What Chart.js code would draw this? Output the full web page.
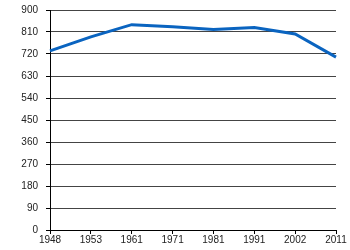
<!DOCTYPE html>
<html>
<head>
<meta charset="utf-8">
<script src="https://cdn.jsdelivr.net/npm/chart.js@4"></script>
<style>
  html, body { margin: 0; padding: 0; background: #fff; }
  #wrap { width: 350px; height: 250px; position: relative; }
</style>
</head>
<body>
<div id="wrap"><canvas id="chart"></canvas></div>
<script>
  /* --- Data --- */
  var years = ['1948', '1953', '1961', '1971', '1981', '1991', '2002', '2011'];
  var population = [733, 790, 840, 831, 820, 828, 802, 707];
  var yTicks = [0, 90, 180, 270, 360, 450, 540, 630, 720, 810, 900];

  var ctx = document.getElementById('chart').getContext('2d');

  new Chart(ctx, {
    type: 'line',
    data: {
      labels: years,
      datasets: [{
        data: population,
        borderColor: '#0a64c0',
        borderWidth: 3,
        pointRadius: 0,
        tension: 0,
        fill: false
      }]
    },
    options: {
      responsive: true,
      maintainAspectRatio: false,
      animation: false,
      layout: { padding: { top: 10, right: 14, left: 0, bottom: 0 } },
      plugins: { legend: { display: false }, tooltip: { enabled: false } },
      scales: {
        x: {
          offset: false,
          afterFit: function (s) { s.height = 20; },
          grid: { display: true, drawOnChartArea: false, drawTicks: true, tickLength: 4, color: '#000' },
          border: { color: '#000', width: 1 },
          ticks: { color: '#222', font: { family: 'Liberation Sans', size: 10 }, padding: 0, maxRotation: 0, autoSkip: false }
        },
        y: {
          min: 0,
          max: 900,
          afterFit: function (s) { s.width = 50; s.paddingTop = 0; s.paddingBottom = 0; },
          afterBuildTicks: function (s) { s.ticks = yTicks.map(function (v) { return { value: v }; }); },
          grid: { color: '#444', tickLength: 4, tickColor: '#000' },
          border: { color: '#000', width: 1 },
          ticks: { color: '#222', font: { family: 'Liberation Sans', size: 10 }, padding: 8 }
        }
      }
    }
  });
</script>
</body>
</html>
